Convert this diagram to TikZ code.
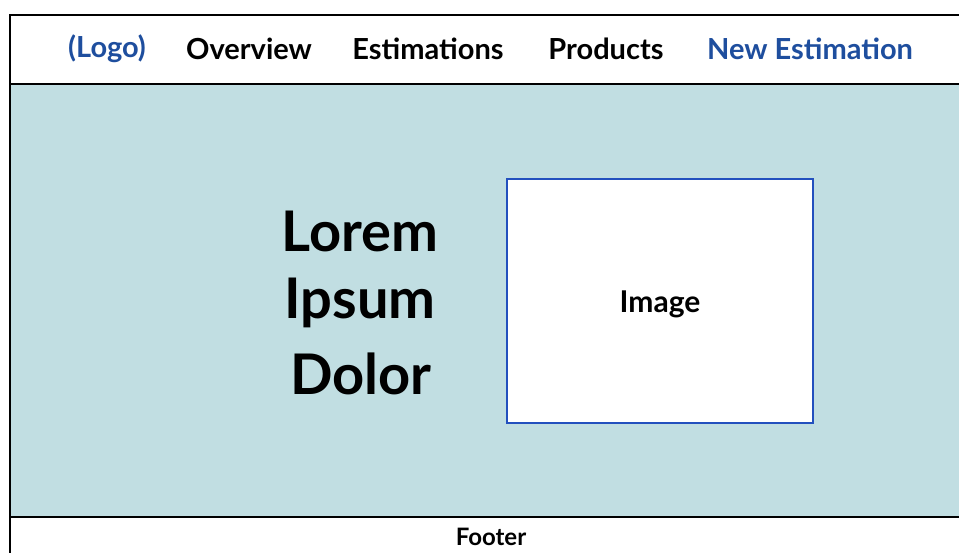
\documentclass[tikz,border=0pt]{standalone}
\usepackage{fontspec}
\setmainfont{Lato}
\begin{document}
\begin{tikzpicture}[x=1pt,y=-1pt,
  navtext/.style={font=\bfseries\fontsize{29}{32}\selectfont, anchor=center, inner sep=0},
  navblue/.style={navtext, text=navblue},
  bigtext/.style={font=\bfseries\fontsize{56}{60}\selectfont, anchor=center, inner sep=0},
]
\definecolor{navblue}{RGB}{30,78,158}
\definecolor{herobg}{RGB}{193,222,226}
\definecolor{imgblue}{RGB}{35,80,190}
\useasboundingbox (0,0) rectangle (959,553);
\fill[white] (0,0) rectangle (959,553);
% hero background
\fill[herobg] (10,84) rectangle (959,517);
% frame lines
\draw[line width=2pt] (10,553) -- (10,15) -- (959,15);
\draw[line width=2pt] (10,84) -- (959,84);
\draw[line width=2pt] (10,517) -- (959,517);
% nav
\node[navblue] (logo) at (107,49) {(Logo)};
\node[navtext] (overview) at (249,49) {Overview};
\node[navtext] (estim) at (428,49) {Estimations};
\node[navtext] (prod) at (606,49) {Products};
\node[navblue] (newest) at (810,49) {New Estimation};
% hero text
\node[bigtext] (lorem) at (360,231) {Lorem};
\node[bigtext] (ipsum) at (360,303) {Ipsum};
\node[bigtext] (dolor) at (361,374) {Dolor};
% image box
\node[draw=imgblue, line width=1.8pt, fill=white, minimum width=306pt, minimum height=244pt, inner sep=0] (img) at (660,301) {};
\node[font=\bfseries\fontsize{30}{34}\selectfont, inner sep=0] (imglabel) at (660,304) {Image};
% footer
\node[font=\bfseries\fontsize{24}{26}\selectfont, inner sep=0] (footer) at (491,537) {Footer};
\end{tikzpicture}
\end{document}
